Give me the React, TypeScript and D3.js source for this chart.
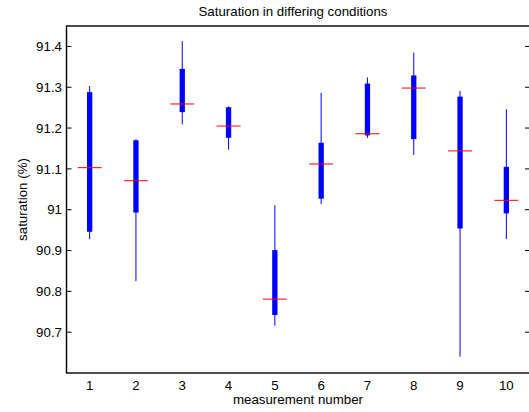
import React from "react";
import * as d3 from "d3";

const measurements = [1, 2, 3, 4, 5, 6, 7, 8, 9, 10];
const whiskerHigh = [91.303, 91.173, 91.413, 91.253, 91.011, 91.286, 91.324, 91.385, 91.291, 91.246];
const q3 = [91.288, 91.17, 91.345, 91.251, 90.901, 91.164, 91.309, 91.329, 91.277, 91.105];
const medians = [91.103, 91.071, 91.259, 91.205, 90.781, 91.112, 91.186, 91.298, 91.144, 91.023];
const q1 = [90.946, 90.993, 91.239, 91.176, 90.742, 91.027, 91.182, 91.173, 90.954, 90.991];
const whiskerLow = [90.928, 90.825, 91.209, 91.147, 90.716, 91.014, 91.176, 91.134, 90.64, 90.928];
const yTicks = [90.7, 90.8, 90.9, 91, 91.1, 91.2, 91.3, 91.4];

const W = 529;
const H = 412;
const left = 66.5;
const right = 529.5;
const top = 26;
const bottom = 373;

export default function App() {
  const x = d3.scaleLinear().domain([0.5, 10.5]).range([left, right]);
  const y = d3.scaleLinear().domain([90.6, 91.45]).range([bottom, top]);
  const font = "Arial, 'Liberation Sans', Helvetica, sans-serif";
  const fmt = (v: number) => d3.format("")(+v.toFixed(1));
  const boxW = 5.3;
  const medW = 24;

  return (
    <div style={{ position: "fixed", left: 0, top: 0 }}>
      <svg width={W} height={H} style={{ display: "block", background: "#fff" }} fontFamily={font}>
        <rect x={0} y={0} width={W} height={H} fill="#fff" />
        {/* boxes */}
        {measurements.map((m, i) => {
          const cx = x(m);
          return (
            <g key={m}>
              <line x1={cx} x2={cx} y1={y(whiskerHigh[i])} y2={y(whiskerLow[i])} stroke="#0000ff" strokeWidth={1} />
              <rect x={cx - boxW / 2} y={y(q3[i])} width={boxW} height={y(q1[i]) - y(q3[i])} fill="#0000ff" />
              <line x1={cx - medW / 2} x2={cx + medW / 2} y1={y(medians[i])} y2={y(medians[i])} stroke="#ff0000" strokeWidth={1} />
            </g>
          );
        })}
        {/* axes box */}
        <rect x={left} y={top} width={right + 0.5 - left} height={bottom - top} fill="none" stroke="#000" strokeWidth={1.4} />
        {yTicks.map((t) => (
          <g key={t}>
            <line x1={left} x2={left + 5} y1={y(t)} y2={y(t)} stroke="#000" strokeWidth={1} />
            <line x1={right + 0.5 - 5} x2={right + 0.5} y1={y(t)} y2={y(t)} stroke="#000" strokeWidth={1} />
            <text x={62} y={y(t)} dy="0.35em" textAnchor="end" fontSize={13.3} fill="#000">
              {fmt(t)}
            </text>
          </g>
        ))}
        {measurements.map((m) => (
          <text key={m} x={x(m)} y={390} textAnchor="middle" fontSize={13.3} fill="#000">
            {m}
          </text>
        ))}
        <text x={298} y={404} textAnchor="middle" fontSize={13.3} fill="#000">
          measurement number
        </text>
        <text
          transform={`translate(27, ${(top + bottom) / 2}) rotate(-90)`}
          textAnchor="middle"
          fontSize={13.3}
          fill="#000"
        >
          saturation (%)
        </text>
        <text x={293} y={16} textAnchor="middle" fontSize={13.3} fill="#000">
          Saturation in differing conditions
        </text>
      </svg>
    </div>
  );
}
